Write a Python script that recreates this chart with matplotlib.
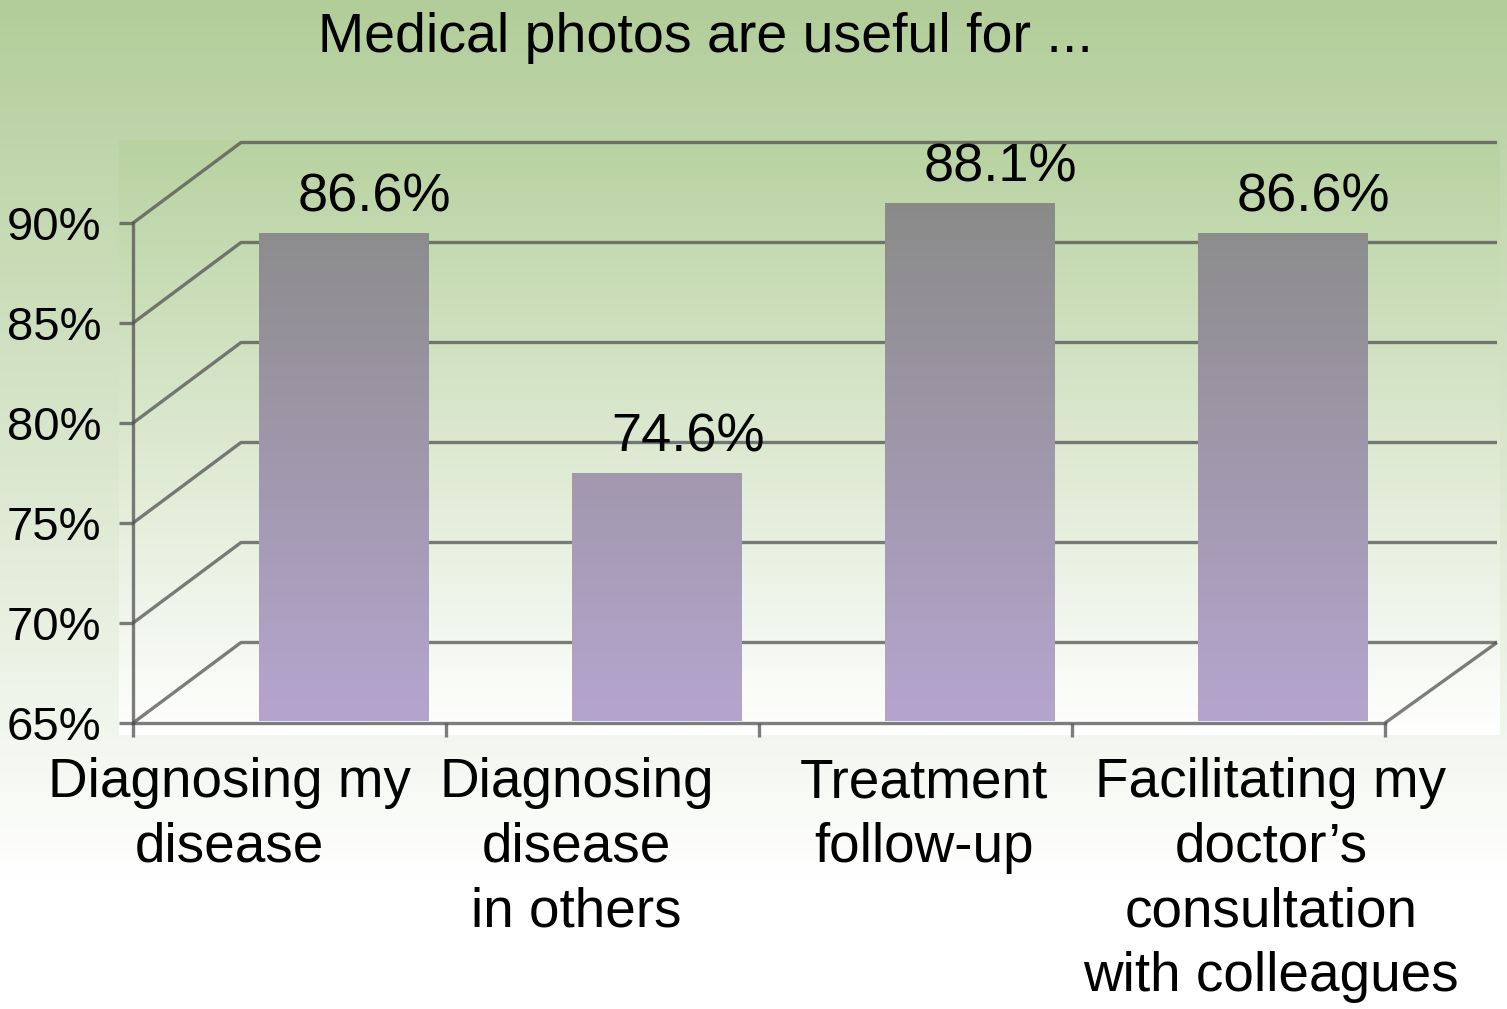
import numpy as np
import matplotlib
matplotlib.use("Agg")
import matplotlib.pyplot as plt

plt.rcParams['font.family'] = ['Liberation Sans', 'DejaVu Sans']

# ---------------- data ----------------
title = "Medical photos are useful for ..."
categories = ["Diagnosing my\ndisease",
              "Diagnosing\ndisease\nin others",
              "Treatment\nfollow-up",
              "Facilitating my\ndoctor\u2019s\nconsultation\nwith colleagues"]
values = [86.6, 74.6, 88.1, 86.6]
yticks = [65, 70, 75, 80, 85, 90]
ytick_labels = ["65%", "70%", "75%", "80%", "85%", "90%"]

# ---------------- layout helpers ----------------
W, H = 1507, 1009
fig = plt.figure(figsize=(W / 100, H / 100), dpi=100)


def fx(px):
    return px / W


def fy(py):
    return 1 - py / H


def vgrad(top_rgb, bot_rgb, n, start_frac=0.0, stop_frac=1.0):
    t = np.clip((np.linspace(0, 1, n) - start_frac) / (stop_frac - start_frac), 0, 1)[:, None]
    top = np.array(top_rgb) / 255.0
    bot = np.array(bot_rgb) / 255.0
    arr = top[None, :] * (1 - t) + bot[None, :] * t
    return arr[:, None, :]


# figure background gradient
bg = fig.add_axes([0, 0, 1, 1], zorder=-3)
bg.imshow(vgrad((178, 205, 153), (255, 255, 255), H, stop_frac=880 / H),
          aspect='auto', extent=[0, 1, 0, 1], interpolation='bilinear')
bg.axis('off')

# plot-area background gradient
pa = fig.add_axes([fx(119), fy(735), fx(1500) - fx(119), (735 - 140) / H], zorder=-2)
pa.imshow(vgrad((184, 210, 160), (255, 255, 255), 400),
          aspect='auto', extent=[0, 1, 0, 1], interpolation='bilinear')
pa.axis('off')

# ---------------- front axes (scale, grid walls) ----------------
LC = (0.32, 0.32, 0.32, 0.75)
LW = 2.4
ax = fig.add_axes([fx(133), fy(723), (1385 - 133) / W, 500 / H], zorder=1)
ax.set_facecolor('none')
ax.set_xlim(-0.5, 3.5)
ax.set_ylim(65, 90)
for s in ['top', 'right']:
    ax.spines[s].set_visible(False)
for s in ['left', 'bottom']:
    ax.spines[s].set_color(LC)
    ax.spines[s].set_linewidth(LW)
ax.set_yticks(yticks)
ax.set_yticklabels(ytick_labels)
ax.tick_params(axis='y', length=10, width=LW, color=LC, pad=13.0,
               labelsize=34, direction='out')
ax.set_xticks([-0.5, 0.5, 1.5, 2.5, 3.5])
ax.set_xticklabels([])
ax.tick_params(axis='x', length=10, width=LW, color=LC, direction='out')

# 3-D depth offsets (in data units of the front axes)
ddx = 108 / 313
ddy = 80.5 / 20
x_right = -0.5 + (1497 - 133) / 313
for v in yticks:
    ax.plot([-0.5, -0.5 + ddx, x_right], [v, v + ddy, v + ddy],
            color=LC, lw=LW, clip_on=False, solid_capstyle='butt', zorder=1)
ax.plot([3.5, x_right], [yticks[0], yticks[0] + ddy],
        color=LC, lw=LW, clip_on=False, solid_capstyle='butt', zorder=1)

# category labels
label_tr = ax.get_xaxis_transform()
for i, lab in enumerate(categories):
    xpos = i + 0.109 * (i - 1.5) - 0.028
    ax.text(xpos, (723 - 757) / 500, lab, transform=label_tr, ha='center',
            va='top', multialignment='center', fontsize=39.5,
            linespacing=1.32, clip_on=False)

# ---------------- bars axes (shifted into depth) ----------------
shift_x = ddx / 2
shift_y = 2.9
ax2 = fig.add_axes(ax.get_position(), zorder=2)
ax2.set_facecolor('none')
xl = (-0.5 - shift_x, 3.5 - shift_x)
yl = (65 - shift_y, 90 - shift_y)
ax2.set_xlim(*xl)
ax2.set_ylim(*yl)
ax2.axis('off')

base = yl[0] + 0.08
xs = np.arange(len(values))
bars = ax2.bar(xs, np.array(values) - base, bottom=base, width=0.54,
               color='none', edgecolor='none')

# gradient fill for bars: gray at top -> lavender near bottom
g_top = max(values)
g_bot = yl[0] + (723 - 700) / 20
stop = (g_top - g_bot) / (g_top - base)
grad = vgrad((138, 139, 137), (180, 164, 204), 400, stop_frac=stop)
for b in bars:
    im = ax2.imshow(grad, aspect='auto', extent=[xl[0], xl[1], base, g_top],
                    interpolation='bilinear', zorder=2)
    im.set_clip_path(b)
ax2.set_xlim(*xl)
ax2.set_ylim(*yl)

for xv, v in zip(xs, values):
    ax2.text(xv + 0.1, v + 1.1, f"{v}%", ha='center', va='baseline',
             fontsize=39, clip_on=False, zorder=3)

# title
fig.text(fx(705), fy(52), title, ha='center', va='baseline', fontsize=40)

fig.savefig("out.png", dpi=100)
